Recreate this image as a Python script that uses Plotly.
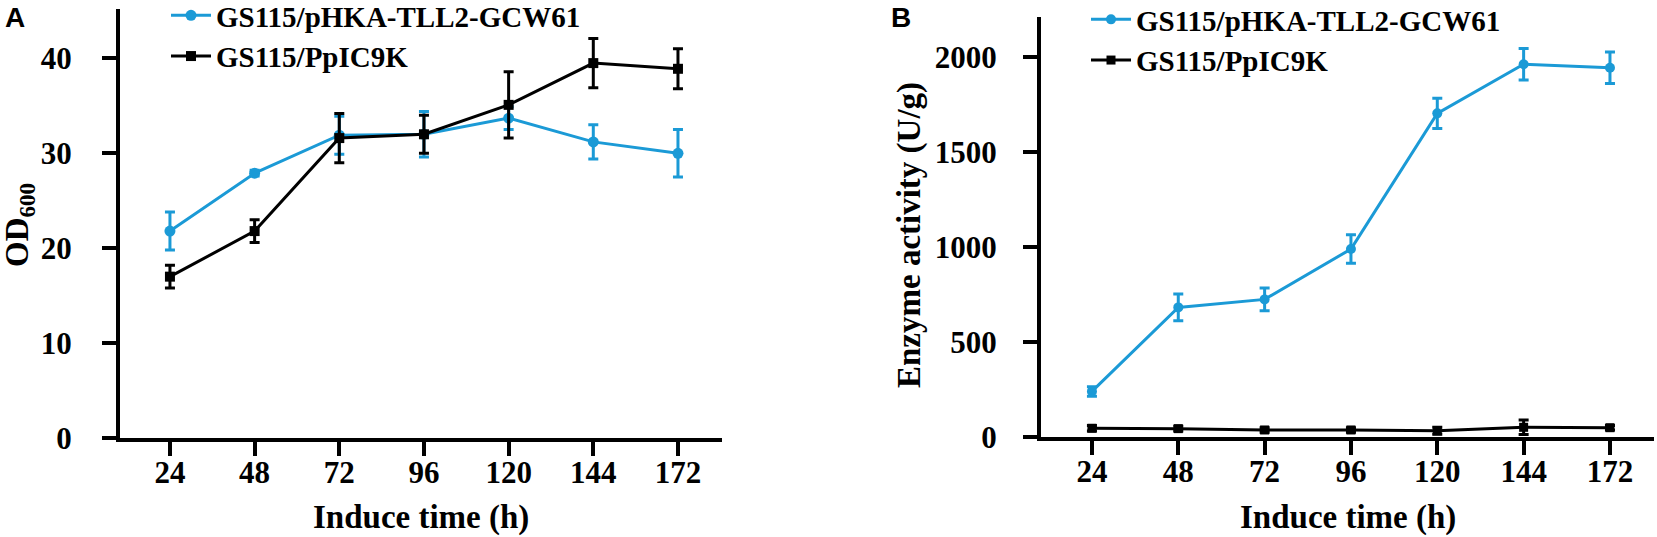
import plotly.graph_objects as go

# induce time (h), categorical axis
time = ["24", "48", "72", "96", "120", "144", "172"]

# panel A : OD600
od_gcw61 = [21.8, 27.9, 31.9, 32.0, 33.7, 31.2, 30.0]
od_gcw61_err = [2.0, 0.3, 2.0, 2.4, 1.2, 1.8, 2.5]
od_ppic9k = [17.0, 21.8, 31.6, 32.0, 35.1, 39.5, 38.9]
od_ppic9k_err = [1.2, 1.2, 2.6, 2.0, 3.5, 2.6, 2.1]

# panel B : enzyme activity (U/g)
enz_gcw61 = [240, 682, 724, 989, 1703, 1961, 1943]
enz_gcw61_err = [25, 70, 60, 75, 80, 83, 83]
enz_ppic9k = [46, 44, 37, 37, 33, 51, 49]
enz_ppic9k_err = [15, 12, 12, 12, 18, 38, 12]

BLUE = "#1B9AD6"
BLACK = "#000000"
SERIF = "Liberation Serif"
W, H = 1657, 537

fig = go.Figure()

def add_pair(xaxis, yaxis, legend, y1, e1, y2, e2, msize):
    fig.add_trace(go.Scatter(
        x=time, y=y1, xaxis=xaxis, yaxis=yaxis, legend=legend,
        name="GS115/pHKA-TLL2-GCW61", mode="lines+markers",
        line=dict(color=BLUE, width=3),
        marker=dict(symbol="circle", size=msize + 1, color=BLUE),
        error_y=dict(type="data", array=e1, color=BLUE, thickness=3, width=5),
    ))
    fig.add_trace(go.Scatter(
        x=time, y=y2, xaxis=xaxis, yaxis=yaxis, legend=legend,
        name="GS115/PpIC9K", mode="lines+markers",
        line=dict(color=BLACK, width=3),
        marker=dict(symbol="square", size=msize, color=BLACK),
        error_y=dict(type="data", array=e2, color=BLACK, thickness=3, width=5),
    ))

add_pair("x", "y", "legend", od_gcw61, od_gcw61_err, od_ppic9k, od_ppic9k_err, 10)
add_pair("x2", "y2", "legend2", enz_gcw61, enz_gcw61_err, enz_ppic9k, enz_ppic9k_err, 9)

tickfont = dict(family=SERIF, size=31, color="black", weight="bold")
common = dict(showline=True, linewidth=4, linecolor="black", showgrid=False, zeroline=False,
              ticks="outside", ticklen=14, tickwidth=4, tickcolor="black", tickfont=tickfont,
              automargin=False)
legfont = dict(family=SERIF, size=29, color="black", weight="bold")

fig.update_layout(
    width=W, height=H,
    margin=dict(l=0, r=0, t=0, b=0, autoexpand=False),
    plot_bgcolor="white", paper_bgcolor="white",
    xaxis=dict(domain=[120 / W, 722 / W], type="category", range=[-0.59, 6.52],
               anchor="y", ticklabelstandoff=-10, **common),
    yaxis=dict(domain=[(H - 438) / H, (H - 9) / H], range=[0, 45.2], tickvals=[0, 10, 20, 30, 40],
               anchor="x", ticklabelstandoff=24, **common),
    xaxis2=dict(domain=[1041 / W, 1654 / W], type="category", range=[-0.59, 6.51],
                anchor="y2", ticklabelstandoff=-10, **common),
    yaxis2=dict(domain=[(H - 437) / H, (H - 17) / H], range=[0, 2210], tickvals=[0, 500, 1000, 1500, 2000],
                anchor="x2", ticklabelstandoff=20, **common),
    legend=dict(x=166 / W, y=1 + 10 / H, xanchor="left", yanchor="top", bgcolor="rgba(0,0,0,0)",
                font=legfont, itemwidth=40),
    legend2=dict(x=1086 / W, y=1 + 6 / H, xanchor="left", yanchor="top", bgcolor="rgba(0,0,0,0)",
                 font=legfont, itemwidth=40),
    showlegend=True,
)

titlefont = dict(family=SERIF, size=33, color="black", weight="bold")
panelfont = dict(family="Liberation Sans", size=28, color="black", weight="bold")
ann = dict(showarrow=False, xanchor="center", yanchor="middle")
fig.add_annotation(text="Induce time (h)", xref="x domain", yref="paper", x=0.5, y=(H - 517) / H,
                   font=titlefont, **ann)
fig.add_annotation(text="Induce time (h)", xref="x2 domain", yref="paper", x=0.5, y=(H - 517) / H,
                   font=titlefont, **ann)
fig.add_annotation(text="OD<sub>600</sub>", xref="paper", yref="paper", x=20 / W, y=(H - 225) / H,
                   textangle=-90, font=titlefont, **ann)
fig.add_annotation(text="Enzyme activity (U/g)", xref="paper", yref="paper", x=909 / W, y=(H - 235) / H,
                   textangle=-90, font=titlefont, **ann)
fig.add_annotation(text="A", xref="paper", yref="paper", x=15 / W, y=(H - 17) / H,
                   font=panelfont, **ann)
fig.add_annotation(text="B", xref="paper", yref="paper", x=901 / W, y=(H - 17) / H,
                   font=panelfont, **ann)

fig.write_html("out.html", config={"displayModeBar": False})

# drop the default body margin so the figure sits at the page corner
with open("out.html", encoding="utf-8") as f:
    page = f.read()
page = page.replace("<head>", "<head><style>body{margin:0;overflow:hidden}</style>", 1)
with open("out.html", "w", encoding="utf-8") as f:
    f.write(page)
